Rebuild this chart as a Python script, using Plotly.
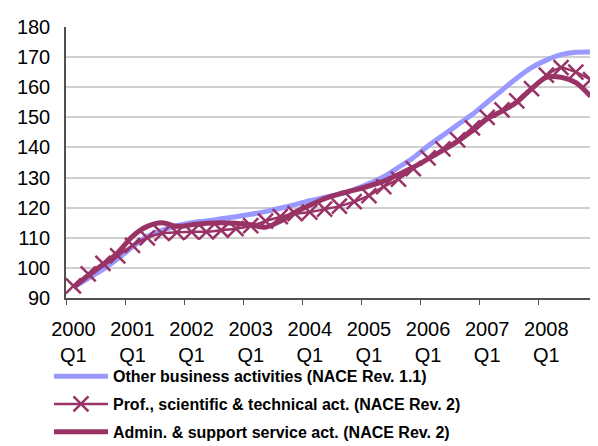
"""Quarterly index, business services (2000Q1-2008Q4)."""

import plotly.graph_objects as go

YEARS = list(range(2000, 2009))
QUARTERS = [f"{y}<br>Q{q}" if q == 1 else f"{y} Q{q}" for y in YEARS for q in range(1, 5)]

OTHER_BUSINESS = [
    93.5, 96.5, 99.5, 103.0, 107.0, 110.5, 112.5, 114.0,
    115.0, 115.6, 116.3, 117.0, 117.8, 118.7, 119.8, 121.0,
    122.3, 123.4, 124.5, 126.0, 128.0, 130.3, 133.4, 136.6,
    140.5, 144.0, 147.5, 151.0, 155.0, 159.0, 163.0, 166.5,
    169.0, 170.8, 171.6, 171.7,
]
PROF_SCIENTIFIC = [
    94.0, 98.0, 101.5, 104.0, 107.5, 110.0, 111.5, 111.8,
    112.0, 112.0, 112.5, 113.0, 114.0, 115.5, 117.0, 118.0,
    118.5, 119.5, 120.5, 122.0, 124.0, 127.0, 129.5, 133.0,
    136.5, 139.5, 142.5, 146.5, 150.0, 152.5, 155.5, 159.5,
    164.0, 166.5, 165.0, 162.5,
]
ADMIN_SUPPORT = [
    93.5, 97.5, 101.0, 105.0, 110.5, 113.8, 115.0, 113.8,
    114.3, 114.8, 115.0, 114.8, 114.3, 113.5, 115.5, 118.5,
    120.8, 123.0, 124.6, 125.8, 127.2, 128.8, 131.0, 133.4,
    136.2, 139.0, 142.0, 145.5, 149.5, 152.0, 155.0, 159.5,
    163.3, 163.3, 161.5, 157.0,
]

BLUE = "#9999FF"
PLUM = "#993366"
FONT = "Liberation Sans, Arial, sans-serif"

fig = go.Figure()
fig.add_trace(
    go.Scatter(
        x=QUARTERS, y=OTHER_BUSINESS, mode="lines",
        line={"color": BLUE, "width": 5, "shape": "spline", "smoothing": 0.8},
        name="<b>Other business activities (NACE Rev. 1.1)</b>", legendgroup="a",
    )
)
fig.add_trace(
    go.Scatter(
        x=QUARTERS, y=PROF_SCIENTIFIC, mode="lines+markers",
        line={"color": PLUM, "width": 2.5, "shape": "spline", "smoothing": 0.8},
        marker={"symbol": "x-thin", "size": 15, "line": {"color": PLUM, "width": 2.5}, "color": PLUM},
        name="<b>Prof., scientific & technical act. (NACE Rev. 2)</b>", legendgroup="b",
    )
)
fig.add_trace(
    go.Scatter(
        x=QUARTERS, y=ADMIN_SUPPORT, mode="lines",
        line={"color": PLUM, "width": 5, "shape": "spline", "smoothing": 0.8},
        name="<b>Admin. & support service act. (NACE Rev. 2)</b>", legendgroup="c",
    )
)

fig.update_xaxes(
    type="category", range=[-0.5, 35.5], tickmode="linear", tick0=0, dtick=4,
    tickson="boundaries", ticks="outside", ticklen=5, tickcolor="#505050",
    showline=True, linecolor="#505050", linewidth=1.5, showgrid=False,
    tickangle=0, tickfont={"size": 20, "color": "#000"}, ticklabelstandoff=12,
)
fig.update_yaxes(
    range=[90, 180], dtick=10, showline=True, linecolor="#505050", linewidth=1.5,
    showgrid=True, gridcolor="#D0D0D0", gridwidth=1.5, zeroline=False,
    ticks="", tickfont={"size": 20, "color": "#000"}, ticklabelstandoff=10,
)
# page body keeps an 8px margin, so the figure is sized to end at the window edge
fig.update_layout(
    width=590, height=438,
    margin={"l": 58, "r": 0, "t": 19, "b": 148, "autoexpand": False},
    paper_bgcolor="white", plot_bgcolor="white",
    font={"family": FONT, "color": "#000"},
    legend={
        "x": -0.032, "y": 0.198, "yref": "container", "xanchor": "left", "yanchor": "top",
        "font": {"size": 16, "color": "#000"}, "tracegroupgap": 4,
        "itemwidth": 54, "bgcolor": "rgba(0,0,0,0)",
    },
)
fig.write_html("out.html")
